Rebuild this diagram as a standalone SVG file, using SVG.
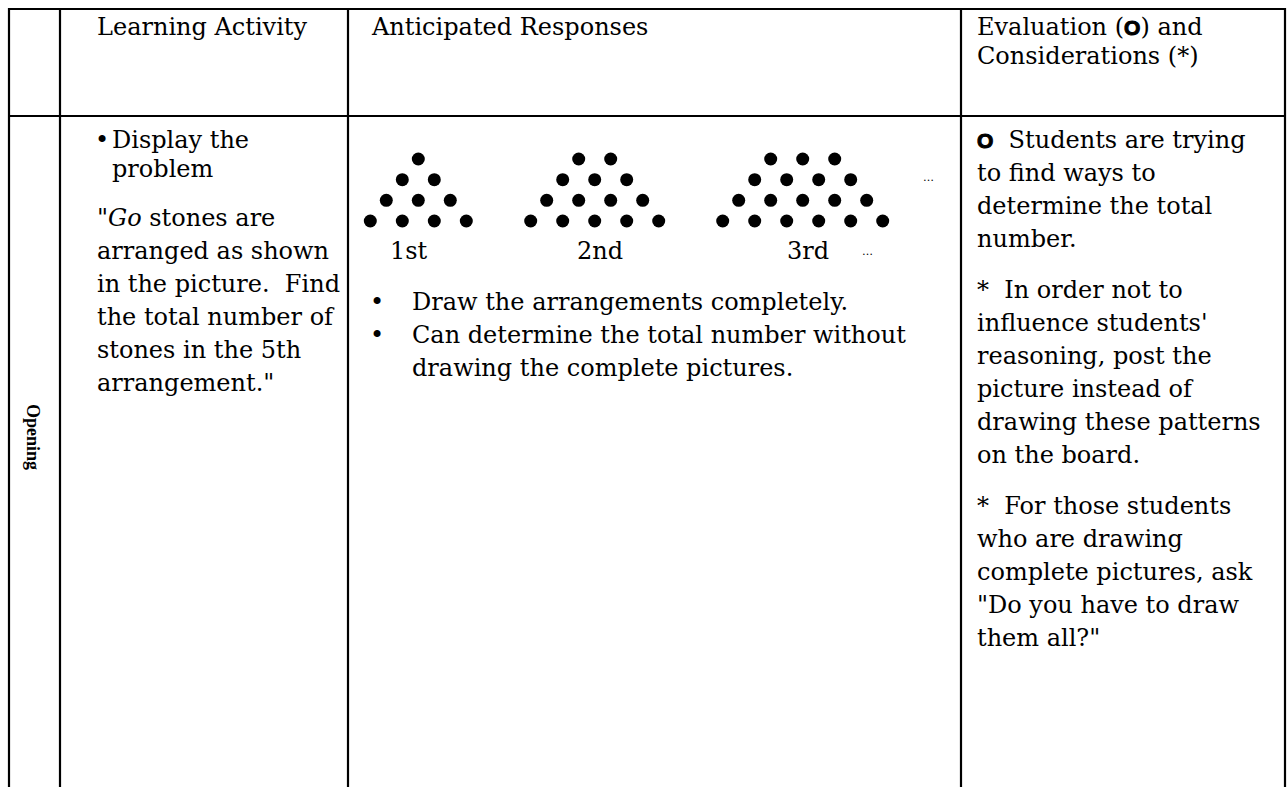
<svg xmlns="http://www.w3.org/2000/svg" width="1287" height="787" viewBox="0 0 1287 787">
<style>
text{font-family:"DejaVu Serif","Liberation Serif",serif;font-size:24px;fill:#000;white-space:pre}
.it{font-style:italic}
.ring{font-family:"Liberation Sans",Arial,sans-serif;font-weight:bold;font-size:21px;stroke:#000;stroke-width:1}
.sm{font-size:11px}
.bold{font-family:"Liberation Serif","DejaVu Serif",serif;font-weight:bold;font-size:18px}
.grid line{stroke:#000;stroke-width:2.2}
.dots circle{fill:#000}
</style>
<rect width="1287" height="787" fill="#fff"/>
<g id="grid" class="grid">
<line x1="8" y1="9" x2="1286" y2="9"/>
<line x1="8" y1="116" x2="1286" y2="116"/>
<line x1="9" y1="8" x2="9" y2="787"/>
<line x1="60" y1="8" x2="60" y2="787"/>
<line x1="348" y1="8" x2="348" y2="787"/>
<line x1="961" y1="8" x2="961" y2="787"/>
<line x1="1285" y1="8" x2="1285" y2="787"/>
</g>
<g id="header">
<text x="97" y="35">Learning Activity</text>
<text x="372" y="35">Anticipated Responses</text>
<text x="977" y="35">Evaluation (<tspan class="ring">O</tspan>) and</text>
<text x="977" y="64">Considerations (*)</text>
</g>
<g id="opening">
<text class="bold" transform="translate(27,437) rotate(90)" text-anchor="middle">Opening</text>
</g>
<g id="learning-activity">
<text x="95" y="148">•</text>
<text x="112" y="148">Display the</text>
<text x="112" y="177">problem</text>
<text x="97" y="226">"<tspan class="it">Go</tspan> stones are</text>
<text x="97" y="259">arranged as shown</text>
<text x="97" y="292">in the picture.  Find</text>
<text x="97" y="325">the total number of</text>
<text x="97" y="358">stones in the 5th</text>
<text x="97" y="391">arrangement."</text>
</g>
<g id="anticipated">
<g class="dots">
<circle cx="418.3" cy="159" r="6.5"/>
<circle cx="402.3" cy="179.7" r="6.5"/><circle cx="434.3" cy="179.7" r="6.5"/>
<circle cx="386.3" cy="200.3" r="6.5"/><circle cx="418.3" cy="200.3" r="6.5"/><circle cx="450.3" cy="200.3" r="6.5"/>
<circle cx="370.3" cy="221" r="6.5"/><circle cx="402.3" cy="221" r="6.5"/><circle cx="434.3" cy="221" r="6.5"/><circle cx="466.3" cy="221" r="6.5"/>
<circle cx="578.7" cy="159" r="6.5"/><circle cx="610.7" cy="159" r="6.5"/>
<circle cx="562.7" cy="179.7" r="6.5"/><circle cx="594.7" cy="179.7" r="6.5"/><circle cx="626.7" cy="179.7" r="6.5"/>
<circle cx="546.7" cy="200.3" r="6.5"/><circle cx="578.7" cy="200.3" r="6.5"/><circle cx="610.7" cy="200.3" r="6.5"/><circle cx="642.7" cy="200.3" r="6.5"/>
<circle cx="530.7" cy="221" r="6.5"/><circle cx="562.7" cy="221" r="6.5"/><circle cx="594.7" cy="221" r="6.5"/><circle cx="626.7" cy="221" r="6.5"/><circle cx="658.7" cy="221" r="6.5"/>
<circle cx="770.7" cy="159" r="6.5"/><circle cx="802.7" cy="159" r="6.5"/><circle cx="834.7" cy="159" r="6.5"/>
<circle cx="754.7" cy="179.7" r="6.5"/><circle cx="786.7" cy="179.7" r="6.5"/><circle cx="818.7" cy="179.7" r="6.5"/><circle cx="850.7" cy="179.7" r="6.5"/>
<circle cx="738.7" cy="200.3" r="6.5"/><circle cx="770.7" cy="200.3" r="6.5"/><circle cx="802.7" cy="200.3" r="6.5"/><circle cx="834.7" cy="200.3" r="6.5"/><circle cx="866.7" cy="200.3" r="6.5"/>
<circle cx="722.7" cy="221" r="6.5"/><circle cx="754.7" cy="221" r="6.5"/><circle cx="786.7" cy="221" r="6.5"/><circle cx="818.7" cy="221" r="6.5"/><circle cx="850.7" cy="221" r="6.5"/><circle cx="882.7" cy="221" r="6.5"/>
</g>
<text class="sm" x="923" y="181">…</text>
<text x="390" y="259">1st</text>
<text x="577" y="259">2nd</text>
<text x="787" y="259">3rd</text>
<text class="sm" x="862" y="255">…</text>
<text x="370" y="310">•</text>
<text x="412" y="310">Draw the arrangements completely.</text>
<text x="370" y="343">•</text>
<text x="412" y="343">Can determine the total number without</text>
<text x="412" y="376">drawing the complete pictures.</text>
</g>
<g id="evaluation">
<text x="977" y="148"><tspan class="ring">O</tspan>  Students are trying</text>
<text x="977" y="181">to find ways to</text>
<text x="977" y="214">determine the total</text>
<text x="977" y="247">number.</text>
<text x="977" y="298">*  In order not to</text>
<text x="977" y="331">influence students'</text>
<text x="977" y="364">reasoning, post the</text>
<text x="977" y="397">picture instead of</text>
<text x="977" y="430">drawing these patterns</text>
<text x="977" y="463">on the board.</text>
<text x="977" y="514">*  For those students</text>
<text x="977" y="547">who are drawing</text>
<text x="977" y="580">complete pictures, ask</text>
<text x="977" y="613">"Do you have to draw</text>
<text x="977" y="646">them all?"</text>
</g>
</svg>
